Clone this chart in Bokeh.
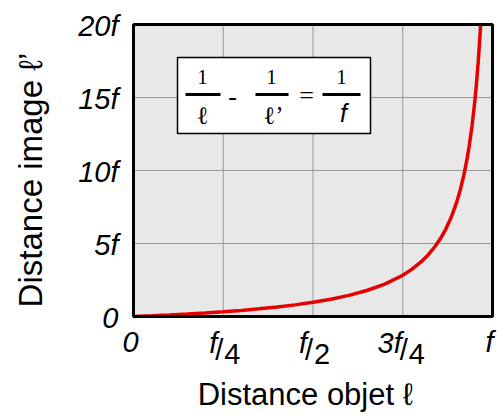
from bokeh.plotting import figure
from bokeh.models import Range1d
from bokeh.core.properties import value
from bokeh.embed import file_html
from bokeh.resources import INLINE

# Object distance (in units of f) and the matching image distance (in units of f)
object_dist = [0, 0.05, 0.1, 0.15, 0.2, 0.25, 0.3, 0.35, 0.4, 0.45,
               0.5, 0.55, 0.6, 0.65, 0.7, 0.75, 0.775, 0.8, 0.82, 0.84,
               0.855, 0.87, 0.885, 0.9, 0.91, 0.92, 0.928, 0.935, 0.943, 0.95,
               0.955, 0.96, 0.963, 0.967]
image_dist = [0, 0.052, 0.109, 0.173, 0.245, 0.327, 0.419, 0.526, 0.650, 0.796,
              0.970, 1.182, 1.445, 1.780, 2.221, 2.828, 3.226, 3.717, 4.200, 4.794,
              5.336, 5.990, 6.796, 7.811, 8.648, 9.661, 10.639, 11.654, 13.056, 14.564,
              15.856, 17.382, 18.438, 20.0]

y_ticks = [0, 5, 10, 15, 20]
y_tick_labels = ["0", "5f", "10f", "15f", "20f"]
x_ticks = [0, 0.25, 0.5, 0.75, 1.0]
# numerator, slash, denominator of each x tick label
x_tick_parts = [("0", "", ""), ("f", "/", "4"), ("f", "/", "2"), ("3f", "/", "4"), ("f", "", "")]
x_tick_nudge = [-3, 0, 0, 5, -3]

X0, X1, Y0, Y1 = 0.0, 1.0, 0.0, 20.0
W, H = 498, 414
FL, FR, FT, FB = 133, 492, 24, 316  # plot box edges in canvas pixels


def dx(px):
    return X0 + (px - FL) / (FR - FL) * (X1 - X0)


def dy(py):
    return Y0 + (FB - py) / (FB - FT) * (Y1 - Y0)


def xpx(xv):
    return FL + (xv - X0) / (X1 - X0) * (FR - FL)


def ypx(yv):
    return FB - (yv - Y0) / (Y1 - Y0) * (FB - FT)


# the figure's frame spans the whole canvas so the margin texts are not clipped
p = figure(width=W, height=H, output_backend="svg", toolbar_location=None,
           x_range=Range1d(dx(0), dx(W)), y_range=Range1d(dy(H), dy(0)),
           min_border=0)
p.axis.visible = False
p.grid.visible = False
p.outline_line_color = None
p.background_fill_color = "white"
p.border_fill_color = "white"

# plot box background
p.quad(left=[X0], right=[X1], bottom=[Y0], top=[Y1], fill_color="#e8e8e8", line_color=None)

# grid
gx = x_ticks[1:-1]
gy = y_ticks[1:-1]
p.segment(x0=gx, x1=gx, y0=[Y0] * len(gx), y1=[Y1] * len(gx), line_color="#999999", line_width=1)
p.segment(x0=[X0] * len(gy), x1=[X1] * len(gy), y0=gy, y1=gy, line_color="#999999", line_width=1)

# lens equation box
p.quad(left=[dx(177)], right=[dx(370)], bottom=[dy(133)], top=[dy(57)],
       fill_color="white", line_color="black", line_width=1.5)
bar_y = dy(94)
p.segment(x0=[dx(185), dx(255), dx(322)], x1=[dx(220), dx(288), dx(360)],
          y0=[bar_y] * 3, y1=[bar_y] * 3, line_color="black", line_width=3)
serif = value("Liberation Serif")
p.text(x=[dx(202), dx(271), dx(341)], y=[dy(76)] * 3, text=["1", "1", "1"],
       text_font=serif, text_font_size="21px", text_align="center",
       text_baseline="middle", text_color="black")
p.text(x=[dx(202), dx(273)], y=[dy(115)] * 2, text=["\u2113", "\u2113\u2019"],
       text_font=serif, text_font_size="25px", text_align="center",
       text_baseline="middle", text_color="black")
p.text(x=[dx(343)], y=[dy(112)], text=["f"], text_font=value("Liberation Sans"),
       text_font_style="italic", text_font_size="25px", text_align="center",
       text_baseline="middle", text_color="black")
p.text(x=[dx(232), dx(306)], y=[dy(96), dy(95)], text=["-", "="],
       text_font=serif, text_font_size="26px", text_align="center",
       text_baseline="middle", text_color="black")

# curve
p.line(object_dist, image_dist, line_color="#e60000", line_width=3.5)

# plot box border
p.quad(left=[X0], right=[X1], bottom=[Y0], top=[Y1], fill_color=None,
       line_color="black", line_width=3)

TICK_FONT = value("Liberation Sans")
# y tick labels
p.text(x=[dx(118)] * len(y_ticks), y=[dy(ypx(v) + 1) for v in y_ticks], text=y_tick_labels,
       text_font=TICK_FONT, text_font_size="29px", text_font_style="italic",
       text_align="right", text_baseline="middle", text_color="black")

# x tick labels, drawn as f/n fractions
for xv, (num, sl, den), nudge in zip(x_ticks, x_tick_parts, x_tick_nudge):
    c = xpx(xv) + nudge
    if not sl:
        p.text(x=[dx(c)], y=[dy(341)], text=[num], text_font=TICK_FONT,
               text_font_size="29px", text_font_style="italic",
               text_align="center", text_baseline="middle", text_color="black")
        continue
    p.text(x=[dx(c - 6)], y=[dy(342)], text=[num], text_font=TICK_FONT,
           text_font_size="29px", text_font_style="italic",
           text_align="right", text_baseline="middle", text_color="black")
    p.text(x=[dx(c - 4)], y=[dy(349)], text=[sl], text_font=TICK_FONT,
           text_font_size="29px", text_align="center", text_baseline="middle",
           text_color="black")
    p.text(x=[dx(c + 1)], y=[dy(353)], text=[den], text_font=TICK_FONT,
           text_font_size="29px", text_align="left", text_baseline="middle",
           text_color="black")

# axis titles
p.text(x=[dx(309)], y=[dy(394)], text=["Distance objet  \u2113"],
       text_font=TICK_FONT, text_font_size="31px", text_align="center",
       text_baseline="middle", text_color="black")
p.text(x=[dx(30)], y=[dy(175)], text=["Distance image  \u2113\u2019"],
       text_font=TICK_FONT, text_font_size="33px", text_align="center",
       text_baseline="middle", angle=1.5707963, text_color="black")

open("out.html", "w").write(file_html(p, INLINE))
